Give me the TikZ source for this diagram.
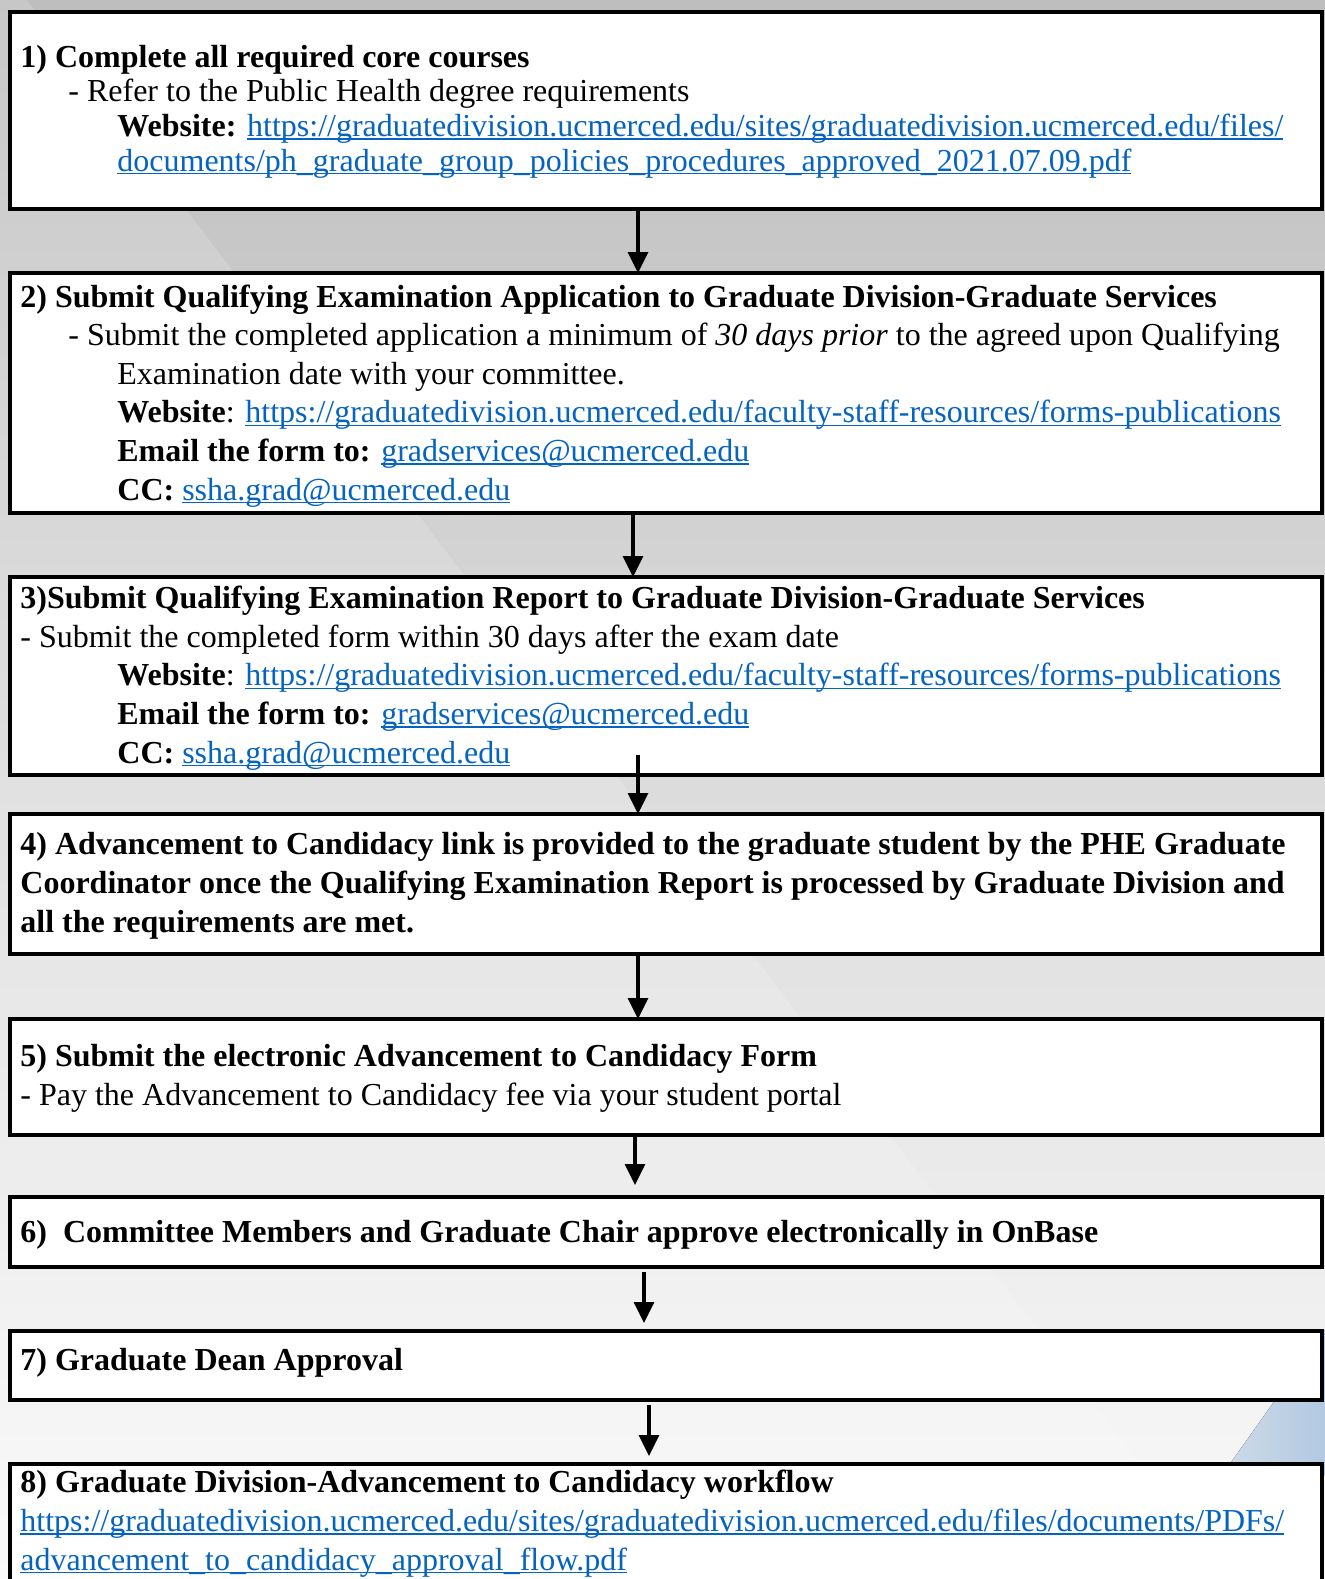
\documentclass[tikz,border=0pt]{standalone}
\usepackage{fontspec}
\setmainfont{Liberation Serif}
\usepackage{xcolor}
\usepackage{tikz}
\usetikzlibrary{arrows.meta}

\definecolor{linkblue}{HTML}{0563C1}
\definecolor{bgtop}{RGB}{190,190,190}
\definecolor{bgbot}{RGB}{250,250,250}
\definecolor{bluelite}{RGB}{206,219,233}
\definecolor{bluedark}{RGB}{178,201,225}

\newsavebox{\lnkbox}
\newcommand{\lnk}[1]{{\color{linkblue}\sbox{\lnkbox}{#1}\rlap{\rule[-1.7pt]{\wd\lnkbox}{0.75pt}}\usebox{\lnkbox}}}
\newcommand{\ind}{\hspace*{24pt}}
\newcommand{\indd}{\hspace*{48.5pt}}

\tikzset{
	stepbox/.style={draw=black, fill=white, line width=2pt, inner sep=0pt, outer sep=0pt,
		anchor=north west, minimum width=656pt},
	steptext/.style={inner sep=0pt, anchor=base west, align=left,
		font=\fontsize{16}{19.3}\selectfont},
	flow/.style={line width=1.6pt, -{Triangle[length=10.5pt,width=10pt]}}
}

\begin{document}
\begin{tikzpicture}[x=0.5pt,y=-0.5pt]
	\useasboundingbox (0,0) rectangle (1325,1579);

	% Background
	\fill[top color=bgtop, bottom color=bgbot] (0,0) rectangle (1325,1579);
	\fill[white, opacity=0.15] (0,0) -- (27,0) -- (1227,1579) -- (0,1579) -- cycle;
	\fill[left color=bluelite, right color=bluedark] (1222,1475) -- (1325,1330) -- (1325,1475) -- cycle;

	% Boxes
	\node[stepbox, minimum height=98.5pt] (box1) at (10,12) {};
	\node[stepbox, minimum height=120pt] (box2) at (10,273) {};
	\node[stepbox, minimum height=99pt] (box3) at (10,577) {};
	\node[stepbox, minimum height=70pt] (box4) at (10,814) {};
	\node[stepbox, minimum height=58pt] (box5) at (10,1019) {};
	\node[stepbox, minimum height=35pt] (box6) at (10,1197) {};
	\node[stepbox, minimum height=34.5pt] (box7) at (10,1331) {};
	\node[stepbox, minimum height=75pt] (box8) at (10,1464) {};

	% Texts (placed by the baseline of their last line)
	\node[steptext, font=\fontsize{16}{17.3}\selectfont] (t1) at (20,171) {%
		\textbf{1) Complete all required core courses}\\
		\ind- Refer to the Public Health degree requirements\\
		\indd\textbf{Website:} \lnk{https://graduatedivision.ucmerced.edu/sites/graduatedivision.ucmerced.edu/files/}\\
		\indd\lnk{documents/ph\_graduate\_group\_policies\_procedures\_approved\_2021.07.09.pdf}};
	\node[steptext] (t2) at (20,500) {%
		\textbf{2) Submit Qualifying Examination Application to Graduate Division-Graduate Services}\\
		\ind- Submit the completed application a minimum of \textit{30 days prior} to the agreed upon Qualifying\\
		\indd Examination date with your committee.\\
		\indd\textbf{Website}: \lnk{https://graduatedivision.ucmerced.edu/faculty-staff-resources/forms-publications}\\
		\indd\textbf{Email the form to:} \lnk{gradservices@ucmerced.edu}\\
		\indd\textbf{CC:} \lnk{ssha.grad@ucmerced.edu}};
	\node[steptext] (t3) at (20,763) {%
		\textbf{3)Submit Qualifying Examination Report to Graduate Division-Graduate Services}\\
		- Submit the completed form within 30 days after the exam date\\
		\indd\textbf{Website}: \lnk{https://graduatedivision.ucmerced.edu/faculty-staff-resources/forms-publications}\\
		\indd\textbf{Email the form to:} \lnk{gradservices@ucmerced.edu}\\
		\indd\textbf{CC:} \lnk{ssha.grad@ucmerced.edu}};
	\node[steptext, font=\fontsize{16}{19.3}\selectfont\bfseries] (t4) at (20,932) {%
		4) Advancement to Candidacy link is provided to the graduate student by the PHE Graduate\\
		Coordinator once the Qualifying Examination Report is processed by Graduate Division and\\
		all the requirements are met.};
	\node[steptext] (t5) at (20,1105) {%
		\textbf{5) Submit the electronic Advancement to Candidacy Form}\\
		- Pay the Advancement to Candidacy fee via your student portal};
	\node[steptext] (t6) at (20,1242) {\textbf{6)\ \ Committee Members and Graduate Chair approve electronically in OnBase}};
	\node[steptext] (t7) at (20,1370) {\textbf{7) Graduate Dean Approval}};
	\node[steptext] (t8) at (20,1570) {%
		\textbf{8) Graduate Division-Advancement to Candidacy workflow}\\
		\lnk{https://graduatedivision.ucmerced.edu/sites/graduatedivision.ucmerced.edu/files/documents/PDFs/}\\
		\lnk{advancement\_to\_candidacy\_approval\_flow.pdf}};

	% Arrows
	\coordinate (a1) at (638,0);
	\coordinate (a2) at (633,0);
	\coordinate (a3) at (638,755);
	\coordinate (a4) at (638,0);
	\coordinate (a5) at (635,0);
	\coordinate (e5) at (635,1185);
	\coordinate (a6) at (644,1272);
	\coordinate (e6) at (644,1323);
	\coordinate (a7) at (649,1405);
	\coordinate (e7) at (649,1456);
	\draw[flow] (box1.south -| a1) -- (box2.north -| a1);
	\draw[flow] (box2.south -| a2) -- (box3.north -| a2);
	\draw[flow] (a3) -- (box4.north -| a3);
	\draw[flow] (box4.south -| a4) -- (box5.north -| a4);
	\draw[flow] (box5.south -| a5) -- (e5);
	\draw[flow] (a6) -- (e6);
	\draw[flow] (a7) -- (e7);
\end{tikzpicture}
\end{document}
